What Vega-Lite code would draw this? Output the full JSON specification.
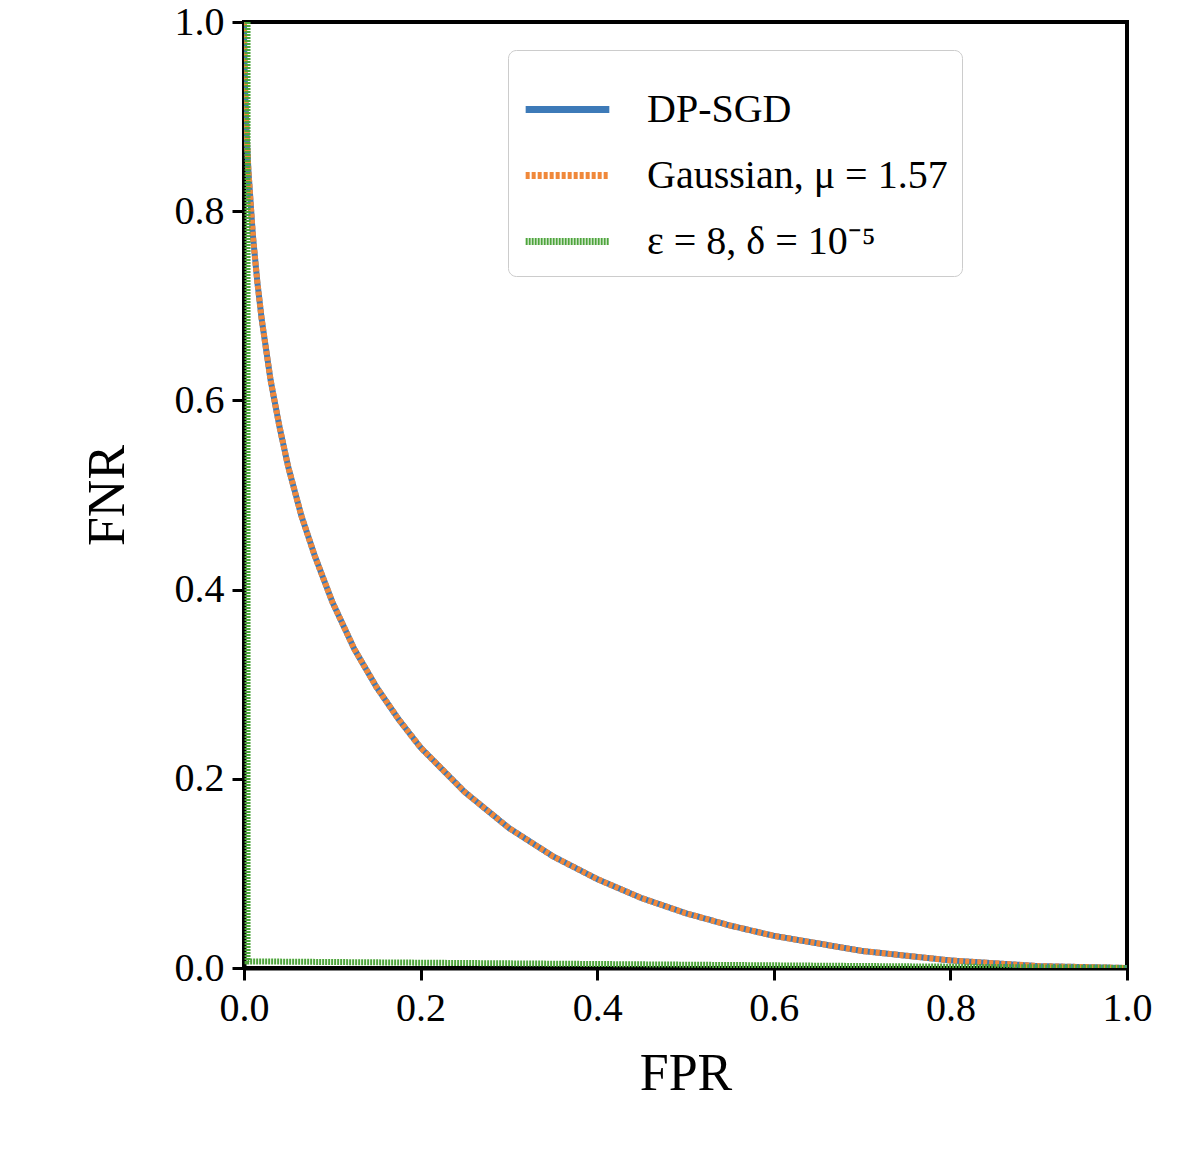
{
  "$schema": "https://vega.github.io/schema/vega-lite/v6.json",
  "width": 883,
  "height": 946,
  "autosize": "none",
  "padding": {"left": 244, "top": 22, "right": 73, "bottom": 206},
  "background": "white",
  "datasets": {
    "curve": [
      {"o": 0, "fpr": 0, "fnr": 1},
      {"o": 1, "fpr": 0.0002, "fnr": 0.976},
      {"o": 2, "fpr": 0.001, "fnr": 0.936},
      {"o": 3, "fpr": 0.003, "fnr": 0.881},
      {"o": 4, "fpr": 0.005, "fnr": 0.843},
      {"o": 5, "fpr": 0.01, "fnr": 0.775},
      {"o": 6, "fpr": 0.015, "fnr": 0.726},
      {"o": 7, "fpr": 0.02, "fnr": 0.686},
      {"o": 8, "fpr": 0.03, "fnr": 0.622},
      {"o": 9, "fpr": 0.04, "fnr": 0.573},
      {"o": 10, "fpr": 0.05, "fnr": 0.53},
      {"o": 11, "fpr": 0.065, "fnr": 0.478},
      {"o": 12, "fpr": 0.08, "fnr": 0.436},
      {"o": 13, "fpr": 0.1, "fnr": 0.387},
      {"o": 14, "fpr": 0.125, "fnr": 0.337},
      {"o": 15, "fpr": 0.15, "fnr": 0.297},
      {"o": 16, "fpr": 0.175, "fnr": 0.263},
      {"o": 17, "fpr": 0.2, "fnr": 0.233},
      {"o": 18, "fpr": 0.25, "fnr": 0.186},
      {"o": 19, "fpr": 0.3, "fnr": 0.148},
      {"o": 20, "fpr": 0.35, "fnr": 0.118},
      {"o": 21, "fpr": 0.4, "fnr": 0.094},
      {"o": 22, "fpr": 0.45, "fnr": 0.074},
      {"o": 23, "fpr": 0.5, "fnr": 0.058},
      {"o": 24, "fpr": 0.55, "fnr": 0.045},
      {"o": 25, "fpr": 0.6, "fnr": 0.034},
      {"o": 26, "fpr": 0.7, "fnr": 0.018},
      {"o": 27, "fpr": 0.8, "fnr": 0.008},
      {"o": 28, "fpr": 0.9, "fnr": 0.002},
      {"o": 29, "fpr": 1, "fnr": 0}
    ]
  },
  "layer": [
    {
      "data": {"name": "curve"},
      "transform": [{"calculate": "'DP-SGD'", "as": "series"}],
      "mark": {"type": "line", "strokeWidth": 6, "clip": true},
      "encoding": {
        "x": {
          "field": "fpr", "type": "quantitative", "title": "FPR",
          "scale": {"domain": [0, 1], "nice": false},
          "axis": {"values": [0, 0.2, 0.4, 0.6, 0.8, 1], "format": ".1f", "labelFlush": false}
        },
        "y": {
          "field": "fnr", "type": "quantitative", "title": "FNR",
          "scale": {"domain": [0, 1], "nice": false},
          "axis": {"values": [0, 0.2, 0.4, 0.6, 0.8, 1], "format": ".1f", "labelFlush": false}
        },
        "order": {"field": "o"},
        "color": {"field": "series", "type": "nominal", "title": null},
        "strokeDash": {"field": "series", "type": "nominal", "title": null}
      }
    },
    {
      "data": {"name": "curve"},
      "transform": [{"calculate": "'Gaussian, μ = 1.57'", "as": "series"}],
      "mark": {"type": "line", "strokeWidth": 6, "clip": true},
      "encoding": {
        "x": {"field": "fpr", "type": "quantitative"},
        "y": {"field": "fnr", "type": "quantitative"},
        "order": {"field": "o"},
        "color": {"field": "series", "type": "nominal"},
        "strokeDash": {"field": "series", "type": "nominal"}
      }
    },
    {
      "data": {"values": [
        {"series": "ε = 8, δ = 10⁻⁵", "o": 0, "fpr": 0.004, "fnr": 1},
        {"series": "ε = 8, δ = 10⁻⁵", "o": 1, "fpr": 0.004, "fnr": 0.007},
        {"series": "ε = 8, δ = 10⁻⁵", "o": 2, "fpr": 1, "fnr": 0.0}
      ]},
      "mark": {"type": "line", "strokeWidth": 6, "clip": true},
      "encoding": {
        "x": {"field": "fpr", "type": "quantitative"},
        "y": {"field": "fnr", "type": "quantitative"},
        "order": {"field": "o"},
        "color": {"field": "series", "type": "nominal"},
        "strokeDash": {"field": "series", "type": "nominal"}
      }
    }
  ],
  "resolve": {"scale": {"color": "shared", "strokeDash": "shared"}},
  "config": {
    "font": "Liberation Serif",
    "view": {"stroke": "black", "strokeWidth": 4},
    "scale": {},
    "range": {
      "category": ["#3d7ab8", "#f0883a", "#4ea53c"],
      "strokeDash": [[1, 0], [28, 14], [28, 14]]
    },
    "axis": {
      "grid": false, "domainColor": "black", "domainWidth": 4,
      "tickColor": "black", "tickWidth": 3, "tickSize": 12,
      "labelFontSize": 40, "labelColor": "black", "labelPadding": 8,
      "titleFontSize": 52, "titleFontWeight": "normal", "titleColor": "black"
    },
    "axisX": {"titlePadding": 20},
    "axisY": {"titlePadding": 40},
    "legend": {
      "orient": "none", "legendX": 264, "legendY": 28,
      "symbolType": "stroke", "symbolSize": 7000, "symbolStrokeWidth": 7,
      "labelFontSize": 40, "labelColor": "black", "labelLimit": 600,
      "rowPadding": -10, "labelOffset": 34,
      "strokeColor": "#cccccc", "fillColor": "white", "cornerRadius": 8, "padding": 14
    }
  }
}
